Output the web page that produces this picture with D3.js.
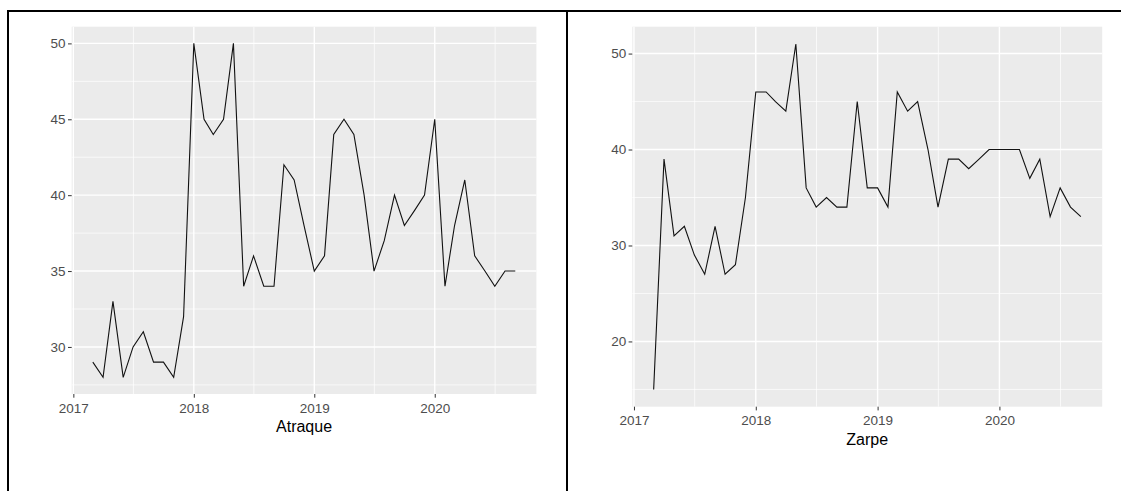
<!DOCTYPE html>
<html><head><meta charset="utf-8">
<script src="https://cdn.jsdelivr.net/npm/d3@7"></script>
<style>html,body{margin:0;padding:0;background:#fff;} svg{display:block;}</style>
</head><body>
<svg id="c" width="1121" height="491"></svg>
<script>
// ---- data ----
const months = [
  "2017-03","2017-04","2017-05","2017-06","2017-07","2017-08","2017-09","2017-10","2017-11","2017-12",
  "2018-01","2018-02","2018-03","2018-04","2018-05","2018-06","2018-07","2018-08","2018-09","2018-10","2018-11","2018-12",
  "2019-01","2019-02","2019-03","2019-04","2019-05","2019-06","2019-07","2019-08","2019-09","2019-10","2019-11","2019-12",
  "2020-01","2020-02","2020-03","2020-04","2020-05","2020-06","2020-07","2020-08","2020-09"
];
const atraque = [29,28,33,28,30,31,29,29,28,32,
  50,45,44,45,50,34,36,34,34,42,41,38,
  35,36,44,45,44,40,35,37,40,38,39,40,
  45,34,38,41,36,35,34,35,35];
const zarpe = [15,39,31,32,29,27,32,27,28,35,
  46,46,45,44,51,36,34,35,34,34,45,36,
  36,34,46,44,45,40,34,39,39,38,39,40,
  40,40,40,37,39,33,36,34,33];
const yearTicks = ["2017","2018","2019","2020"];
const atraqueTicks = [30,35,40,45,50];
const zarpeTicks = [20,30,40,50];
const titles = ["Atraque","Zarpe"];

const svg = d3.select("#c");
const FONT = "'Liberation Sans', Arial, Helvetica, sans-serif";
const parse = d3.utcParse("%Y-%m");
const dates = months.map(parse);

function panel(values, yTicks, title, box) {
  const g = svg.append("g");
  const ext = d3.extent(dates);
  const span = ext[1] - ext[0];
  const x = d3.scaleUtc()
    .domain([new Date(+ext[0] - 0.05 * span), new Date(+ext[1] + 0.05 * span)])
    .range([box.x0, box.x1]);
  const [vmin, vmax] = d3.extent(values);
  const vs = vmax - vmin;
  const y = d3.scaleLinear().domain([vmin - 0.05 * vs, vmax + 0.05 * vs]).range([box.y1, box.y0]);

  g.append("rect").attr("x", box.x0).attr("y", box.y0)
    .attr("width", box.x1 - box.x0).attr("height", box.y1 - box.y0).attr("fill", "#EBEBEB");

  // minor grid
  const step = yTicks[1] - yTicks[0];
  const yMinor = [];
  for (let v = yTicks[0] - step / 2; v <= yTicks[yTicks.length - 1] + step / 2 + 1e-9; v += step) {
    if (v >= y.domain()[0] && v <= y.domain()[1]) yMinor.push(v);
  }
  const xMajor = yearTicks.map(t => d3.utcParse("%Y")(t));
  const xMinor = [];
  for (let yr = +yearTicks[0] - 1; yr <= +yearTicks[yearTicks.length - 1]; yr++) {
    const d = new Date(Date.UTC(yr, 6, 2));
    if (d >= x.domain()[0] && d <= x.domain()[1]) xMinor.push(d);
  }
  g.selectAll(".ymin").data(yMinor).join("line")
    .attr("x1", box.x0).attr("x2", box.x1).attr("y1", d => y(d)).attr("y2", d => y(d))
    .attr("stroke", "#fff").attr("stroke-width", 0.7);
  g.selectAll(".xmin").data(xMinor).join("line")
    .attr("y1", box.y0).attr("y2", box.y1).attr("x1", d => x(d)).attr("x2", d => x(d))
    .attr("stroke", "#fff").attr("stroke-width", 0.7);
  g.selectAll(".ymaj").data(yTicks).join("line")
    .attr("x1", box.x0).attr("x2", box.x1).attr("y1", d => y(d)).attr("y2", d => y(d))
    .attr("stroke", "#fff").attr("stroke-width", 1.4);
  g.selectAll(".xmaj").data(xMajor).join("line")
    .attr("y1", box.y0).attr("y2", box.y1).attr("x1", d => x(d)).attr("x2", d => x(d))
    .attr("stroke", "#fff").attr("stroke-width", 1.4);

  // series
  const line = d3.line().x((d, i) => x(dates[i])).y(d => y(d));
  g.append("path").datum(values).attr("d", line)
    .attr("fill", "none").attr("stroke", "#111").attr("stroke-width", 1.1)
    .attr("stroke-linejoin", "miter");

  // axes
  const ya = g.append("g").attr("transform", `translate(${box.x0},0)`)
    .call(d3.axisLeft(y).tickValues(yTicks).tickSize(3.7).tickPadding(2.4));
  const xa = g.append("g").attr("transform", `translate(0,${box.y1})`)
    .call(d3.axisBottom(x).tickValues(xMajor).tickFormat((d, i) => yearTicks[i]).tickSize(3.7).tickPadding(5.5));
  [ya, xa].forEach(a => {
    a.select(".domain").remove();
    a.selectAll(".tick line").attr("stroke", "#333").attr("stroke-width", 1);
    a.selectAll(".tick text").attr("fill", "#4D4D4D").style("font-family", FONT).style("font-size", "13.5px");
  });

  g.append("text").attr("x", (box.x0 + box.x1) / 2).attr("y", box.y1 + 38.3)
    .attr("text-anchor", "middle").attr("fill", "#000")
    .style("font-family", FONT).style("font-size", "16px").text(title);
}

panel(atraque, atraqueTicks, titles[0], {x0: 71.7, x1: 536.4, y0: 26.7, y1: 394});
panel(zarpe, zarpeTicks, titles[1], {x0: 632.3, x1: 1102.2, y0: 26.7, y1: 406.7});

// outer frame lines
svg.append("line").attr("x1", 7).attr("x2", 1121).attr("y1", 11).attr("y2", 11).attr("stroke", "#000").attr("stroke-width", 2);
svg.append("line").attr("x1", 8).attr("x2", 8).attr("y1", 10).attr("y2", 491).attr("stroke", "#000").attr("stroke-width", 2);
svg.append("line").attr("x1", 567).attr("x2", 567).attr("y1", 10).attr("y2", 491).attr("stroke", "#000").attr("stroke-width", 2);
</script>
</body></html>
